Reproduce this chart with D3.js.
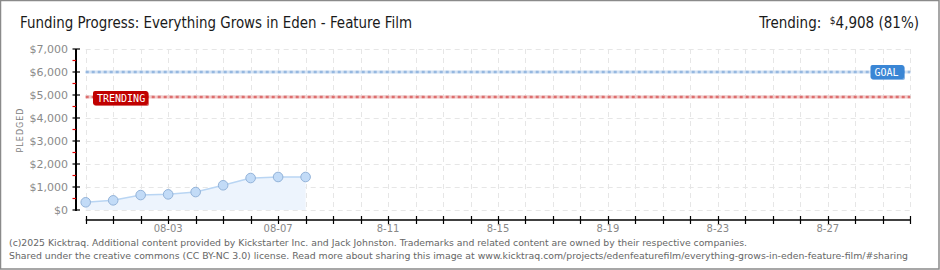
<!DOCTYPE html>
<html>
<head>
<meta charset="utf-8">
<script src="https://cdn.jsdelivr.net/npm/d3@7"></script>
<style>
  body { margin: 0; background: #fff; }
  svg { display: block; }
</style>
</head>
<body>
<svg width="940" height="270"></svg>
<script>
// Data
const dates = ["2025-07-31", "2025-08-01", "2025-08-02", "2025-08-03", "2025-08-04",
               "2025-08-05", "2025-08-06", "2025-08-07", "2025-08-08"];
const pledged = [335, 420, 650, 680, 780, 1075, 1390, 1435, 1435];
const goal = 6000;
const trending = 4908;
const yTicks = [0, 1000, 2000, 3000, 4000, 5000, 6000, 7000];
const xLabelDates = ["2025-08-03", "2025-08-07", "2025-08-11", "2025-08-15", "2025-08-19", "2025-08-23", "2025-08-27"];
const xLabels = ["08-03", "08-07", "8-11", "8-15", "8-19", "8-23", "8-27"];

const parse = d3.timeParse("%Y-%m-%d");
const points = dates.map((d, i) => ({ date: parse(d), value: pledged[i] }));

const svg = d3.select("svg");

// Scales
const x = d3.scaleTime()
  .domain([parse("2025-07-31"), parse("2025-08-30")])
  .range([85.7, 910.3]);
const y = d3.scaleLinear()
  .domain([0, 7000])
  .range([210, 49]);

const days = d3.timeDay.range(parse("2025-07-31"), d3.timeDay.offset(parse("2025-08-30"), 1));

// Frame
svg.append("rect")
  .attr("x", 0.5).attr("y", 0.5)
  .attr("width", 938.5).attr("height", 268.5)
  .attr("fill", "none")
  .attr("stroke", "#8a8a8a")
  .attr("stroke-width", 1.5);

// Grid
const grid = svg.append("g")
  .attr("stroke", "#e6e6e6")
  .attr("stroke-dasharray", "5,4")
  .attr("stroke-width", 1);
grid.selectAll(".h")
  .data(yTicks)
  .enter().append("line")
  .attr("x1", x.range()[0]).attr("x2", x.range()[1])
  .attr("y1", d => Math.round(y(d)) + 0.5).attr("y2", d => Math.round(y(d)) + 0.5);
grid.selectAll(".v")
  .data(days)
  .enter().append("line")
  .attr("x1", d => Math.round(x(d)) + 0.5).attr("x2", d => Math.round(x(d)) + 0.5)
  .attr("y1", y(7000)).attr("y2", y(0));

// Area + line
const area = d3.area()
  .x(d => x(d.date))
  .y0(y(0))
  .y1(d => y(d.value));
svg.append("path")
  .datum(points)
  .attr("d", area)
  .attr("fill", "#edf4fd");

const line = d3.line()
  .x(d => x(d.date))
  .y(d => y(d.value));
svg.append("path")
  .datum(points)
  .attr("d", line)
  .attr("fill", "none")
  .attr("stroke", "#b9d5f3")
  .attr("stroke-width", 1.5);

// Goal and trending lines
function dottedLine(value, light, dark) {
  svg.append("line")
    .attr("x1", x.range()[0]).attr("x2", x.range()[1])
    .attr("y1", y(value)).attr("y2", y(value))
    .attr("stroke", light).attr("stroke-width", 3);
  svg.append("line")
    .attr("x1", x.range()[0]).attr("x2", x.range()[1])
    .attr("y1", y(value)).attr("y2", y(value))
    .attr("stroke", dark).attr("stroke-width", 2.5)
    .attr("stroke-dasharray", "3,3");
}
dottedLine(goal, "#d4e2f3", "#96b8e0");
dottedLine(trending, "#f3c9c9", "#dd6f6f");

// Points
svg.selectAll("circle")
  .data(points)
  .enter().append("circle")
  .attr("cx", d => x(d.date))
  .attr("cy", d => y(d.value))
  .attr("r", 4.8)
  .attr("fill", "#c2dbf7")
  .attr("stroke", "#93b3d9")
  .attr("stroke-width", 1);

// Badges
function badge(cx0, cy, w, label, color) {
  svg.append("rect")
    .attr("x", cx0 + 1).attr("y", cy - 6)
    .attr("width", w).attr("height", 14)
    .attr("rx", 2)
    .attr("fill", color)
    .attr("opacity", 0.6);
  svg.append("rect")
    .attr("x", cx0).attr("y", cy - 7)
    .attr("width", w).attr("height", 14)
    .attr("rx", 2)
    .attr("fill", color);
  svg.append("text")
    .attr("x", cx0 + 4).attr("y", cy + 3.5)
    .attr("font-family", "DejaVu Sans Mono")
    .attr("font-size", 10)
    .attr("fill", "#fff")
    .text(label);
}
badge(870.5, y(goal), 33.5, "GOAL", "#3a86d5");
badge(93, y(trending) + 1, 55, "TRENDING", "#c00000");

// Y axis
svg.append("line")
  .attr("x1", 76).attr("x2", 76)
  .attr("y1", y(7000)).attr("y2", y(0) + 1)
  .attr("stroke", "#000").attr("stroke-width", 2);

svg.selectAll(".minor")
  .data(d3.range(500, 7000, 1000))
  .enter().append("line")
  .attr("x1", 72.5).attr("x2", 76)
  .attr("y1", d => y(d)).attr("y2", d => y(d))
  .attr("stroke", "#e00000").attr("stroke-width", 1.2);

const yAxis = d3.axisLeft(y)
  .tickValues(yTicks)
  .tickSize(0)
  .tickPadding(0)
  .tickFormat(d => "$" + d3.format(",")(d));
const gy = svg.append("g")
  .attr("transform", "translate(68,0)")
  .call(yAxis);
gy.select(".domain").remove();
gy.selectAll("text")
  .attr("font-family", "DejaVu Sans")
  .attr("font-size", 11)
  .attr("fill", "#8a8a8a")
  .attr("dy", "0.36em");

svg.selectAll(".ytick")
  .data(yTicks)
  .enter().append("line")
  .attr("x1", 72.5).attr("x2", 80)
  .attr("y1", d => y(d)).attr("y2", d => y(d))
  .attr("stroke", "#000").attr("stroke-width", 1.2);

svg.append("text")
  .attr("transform", "translate(23,130) rotate(-90)")
  .attr("text-anchor", "middle")
  .attr("font-family", "DejaVu Sans")
  .attr("font-size", 8)
  .attr("letter-spacing", 1)
  .attr("fill", "#808080")
  .text("PLEDGED");

// X axis
svg.append("line")
  .attr("x1", x.range()[0]).attr("x2", x.range()[1] + 0.5)
  .attr("y1", 220).attr("y2", 220)
  .attr("stroke", "#000").attr("stroke-width", 1.5);
svg.selectAll(".xtick")
  .data(days)
  .enter().append("line")
  .attr("x1", d => Math.round(x(d)) + 0.5).attr("x2", d => Math.round(x(d)) + 0.5)
  .attr("y1", 216).attr("y2", 224)
  .attr("stroke", "#000").attr("stroke-width", 1.2);
svg.selectAll(".xlabel")
  .data(xLabelDates)
  .enter().append("text")
  .attr("x", d => x(parse(d)))
  .attr("y", 232)
  .attr("text-anchor", "middle")
  .attr("font-family", "DejaVu Sans")
  .attr("font-size", 10)
  .attr("fill", "#888")
  .text((d, i) => xLabels[i]);

// Title
svg.append("text")
  .attr("x", 20).attr("y", 28)
  .attr("font-family", "DejaVu Sans Condensed, DejaVu Sans")
  .attr("font-size", 15)
  .attr("fill", "#1a1a1a")
  .attr("textLength", 392)
  .attr("lengthAdjust", "spacingAndGlyphs")
  .text("Funding Progress: Everything Grows in Eden - Feature Film");

const tr = svg.append("text")
  .attr("x", 919).attr("y", 28)
  .attr("text-anchor", "end")
  .attr("font-family", "DejaVu Sans Condensed, DejaVu Sans")
  .attr("font-size", 15)
  .attr("fill", "#1a1a1a");
tr.append("tspan").text("Trending:\u00a0\u00a0");
tr.append("tspan").attr("font-size", 10).attr("dy", -4).text("$");
tr.append("tspan").attr("dy", 4).text("4,908 (81%)");

// Footer
const footer = [
  "(c)2025 Kicktraq. Additional content provided by Kickstarter Inc. and Jack Johnston. Trademarks and related content are owned by their respective companies.",
  "Shared under the creative commons (CC BY-NC 3.0) license. Read more about sharing this image at www.kicktraq.com/projects/edenfeaturefilm/everything-grows-in-eden-feature-film/#sharing"
];
const footerWidths = [738, 899];
svg.selectAll(".footer")
  .data(footer)
  .enter().append("text")
  .attr("x", 9)
  .attr("y", (d, i) => 246 + i * 13)
  .attr("font-family", "DejaVu Sans Condensed, DejaVu Sans")
  .attr("font-size", 9.5)
  .attr("fill", "#666")
  .attr("textLength", (d, i) => footerWidths[i])
  .attr("lengthAdjust", "spacingAndGlyphs")
  .text(d => d);
</script>
</body>
</html>
